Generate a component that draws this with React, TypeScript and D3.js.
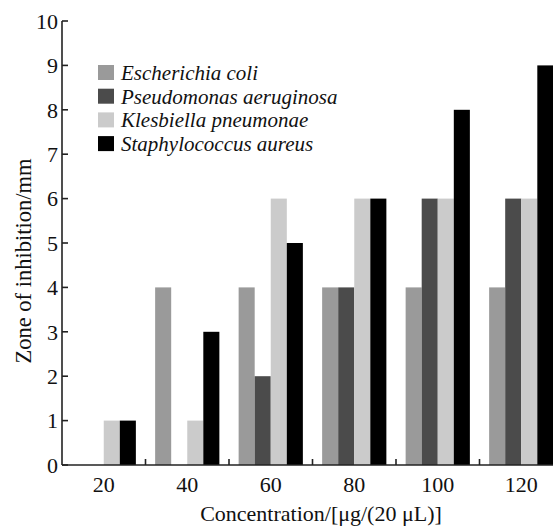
import * as d3 from "d3";

const categories = ["20", "40", "60", "80", "100", "120"];
const seriesNames = [
  "Escherichia coli",
  "Pseudomonas aeruginosa",
  "Klesbiella pneumonae",
  "Staphylococcus aureus",
];
const ecoli = [0, 4, 4, 4, 4, 4];
const pseudomonas = [0, 0, 2, 4, 6, 6];
const klebsiella = [1, 1, 6, 6, 6, 6];
const staph = [1, 3, 5, 6, 8, 9];
const yTicks = [0, 1, 2, 3, 4, 5, 6, 7, 8, 9, 10];
const colors = ["#9a9a9a", "#4b4b4b", "#cbcbcb", "#000000"];

const W = 553;
const H = 528;
const font = "'Liberation Serif', 'Times New Roman', serif";

export default function App() {
  const values = [ecoli, pseudomonas, klebsiella, staph];
  const left = 62;
  const step = 83.5;
  const x0 = d3
    .scaleBand()
    .domain(categories)
    .range([left, left + step * categories.length])
    .padding(0);
  const x1 = d3
    .scaleBand()
    .domain(seriesNames)
    .range([0, x0.bandwidth()])
    .paddingInner(0)
    .paddingOuter(0.6);
  const y = d3.scaleLinear().domain([0, 10]).range([465, 21]);

  const tickLen = 6;
  const bounds = categories.slice(1).map((c) => x0(c)!);

  return (
    <svg
      width={W}
      height={H}
      style={{ position: "absolute", left: 0, top: 0, background: "#fff" }}
      fontFamily={font}
    >
      {/* bars */}
      {categories.map((c, i) => (
        <g key={c} transform={`translate(${x0(c)},0)`}>
          {seriesNames.map((s, j) => {
            const v = values[j][i];
            if (!v) return null;
            return (
              <rect
                key={s}
                x={x1(s)}
                y={y(v)}
                width={x1.bandwidth()}
                height={y(0) - y(v)}
                fill={colors[j]}
              />
            );
          })}
        </g>
      ))}

      {/* y axis */}
      <line x1={left} x2={left} y1={y(10)} y2={y(0)} stroke="#222" strokeWidth={1.6} />
      {yTicks.map((t) => (
        <g key={t}>
          <line x1={left} x2={left + tickLen} y1={y(t)} y2={y(t)} stroke="#222" strokeWidth={1.6} />
          <text x={left - 4} y={y(t)} dy="0.35em" textAnchor="end" fontSize={22} fill="#111">
            {t}
          </text>
        </g>
      ))}

      {/* x axis */}
      <line x1={left} x2={W} y1={y(0)} y2={y(0)} stroke="#222" strokeWidth={1.6} />
      {bounds.map((b, i) => (
        <line key={i} x1={b} x2={b} y1={y(0)} y2={y(0) - tickLen} stroke="#222" strokeWidth={1.6} />
      ))}
      {categories.map((c) => (
        <text
          key={c}
          x={x0(c)! + x0.bandwidth() / 2}
          y={492}
          textAnchor="middle"
          fontSize={22}
          fill="#111"
        >
          {c}
        </text>
      ))}

      {/* axis titles */}
      <text
        transform={`translate(31,261) rotate(-90)`}
        textAnchor="middle"
        fontSize={22.5}
        fill="#111"
      >
        Zone of inhibition/mm
      </text>
      <text x={321} y={521} textAnchor="middle" fontSize={22} fill="#111">
        Concentration/[μg/(20 μL)]
      </text>

      {/* legend */}
      {seriesNames.map((s, j) => (
        <g key={s} transform={`translate(98,${72.5 + j * 23.7})`}>
          <rect x={0} y={-7.5} width={16} height={15} fill={colors[j]} />
          <text x={23} y={0} dy="0.35em" fontSize={21} fontStyle="italic" fill="#111">
            {s}
          </text>
        </g>
      ))}
    </svg>
  );
}
